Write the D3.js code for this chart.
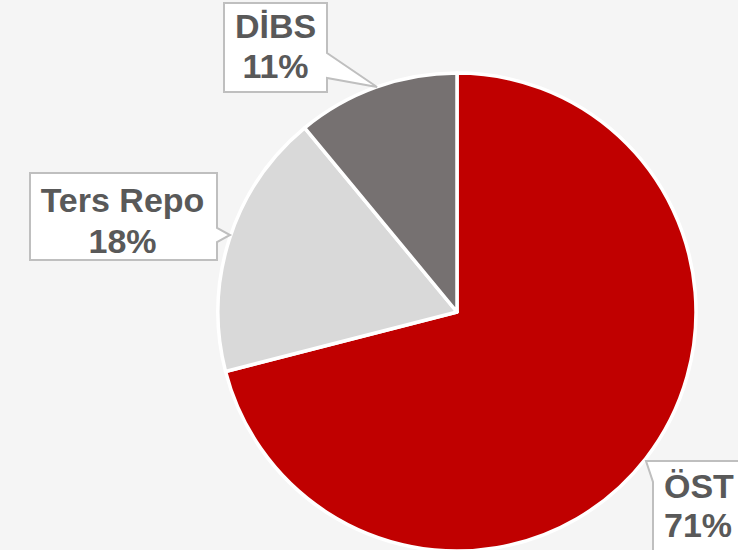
<!DOCTYPE html>
<html>
<head>
<meta charset="utf-8">
<script src="https://cdn.jsdelivr.net/npm/d3@7"></script>
<style>
  html, body { margin: 0; padding: 0; background: #f5f5f5; }
  svg { display: block; }
</style>
</head>
<body>
<svg id="chart"></svg>
<script>
const labels = ["ÖST", "Ters Repo", "DİBS"];
const values = [71, 18, 11];
const colors = ["#c00000", "#d9d9d9", "#767171"];

const width = 738;
const height = 550;
const cx = 457, cy = 312, radius = 239;

const svg = d3.select("#chart")
  .attr("width", width)
  .attr("height", height);

const data = labels.map((l, i) => ({ label: l, value: values[i] }));

const color = d3.scaleOrdinal().domain(labels).range(colors);

const pie = d3.pie().value(d => d.value).sort(null);
const arc = d3.arc().innerRadius(0).outerRadius(radius);

//slices
svg.append("g")
   .attr("transform", `translate(${cx},${cy})`)
 .selectAll("path")
 .data(pie(data))
 .enter()
 .append("path")
   .attr("d", arc)
   .attr("fill", d => color(d.data.label))
   .attr("stroke", "#ffffff")
   .attr("stroke-width", 3.5)
   .attr("stroke-linejoin", "round");

//callouts: box + pointer, drawn as one path
const callouts = {
  "ÖST":       { x: 653, y: 461, w: 110, h: 110, tip: [646, 461], base: ["left", 461, 482], tx: 664, ty: [498, 537], anchor: "start" },
  "Ters Repo": { x: 30, y: 173, w: 187, h: 87, tip: [230, 235], base: ["right", 228, 242], tx: 122.5, ty: [212, 253], anchor: "middle" },
  "DİBS":      { x: 224, y: 3, w: 103, h: 89, tip: [377, 87], base: ["right", 53, 78], tx: 275.5, ty: [38, 78], anchor: "middle" }
};

function calloutPath(c) {
  const x0 = c.x, y0 = c.y, x1 = c.x + c.w, y1 = c.y + c.h;
  const [side, b0, b1] = c.base;
  const p = d3.path();
  if (side === "right") {
    p.moveTo(x0, y0);
    p.lineTo(x1, y0);
    p.lineTo(x1, b0);
    p.lineTo(c.tip[0], c.tip[1]);
    p.lineTo(x1, b1);
    p.lineTo(x1, y1);
    p.lineTo(x0, y1);
    p.closePath();
  } else {
    p.moveTo(x0, b0);
    p.lineTo(c.tip[0], c.tip[1]);
    p.lineTo(x0, b1);
    p.lineTo(x0, y1);
    p.lineTo(x1, y1);
    p.lineTo(x1, y0);
    p.lineTo(x0, y0);
    p.closePath();
  }
  return p.toString();
}

const lab = svg.append("g")
 .selectAll("g")
 .data(pie(data))
 .enter()
 .append("g");

lab.append("path")
   .attr("d", d => calloutPath(callouts[d.data.label]))
   .attr("fill", "#ffffff")
   .attr("stroke", "#bfbfbf")
   .attr("stroke-width", 2)
   .attr("stroke-linejoin", "miter");

const txt = lab.append("text")
   .attr("text-anchor", d => callouts[d.data.label].anchor)
   .style("font", "bold 34px 'Liberation Sans', Arial, sans-serif")
   .attr("fill", "#595959");

txt.append("tspan")
   .attr("x", d => callouts[d.data.label].tx)
   .attr("y", d => callouts[d.data.label].ty[0])
   .text(d => d.data.label);

txt.append("tspan")
   .attr("x", d => callouts[d.data.label].tx)
   .attr("y", d => callouts[d.data.label].ty[1])
   .text(d => d3.format(".0f")(d.data.value) + "%");
</script>
</body>
</html>
